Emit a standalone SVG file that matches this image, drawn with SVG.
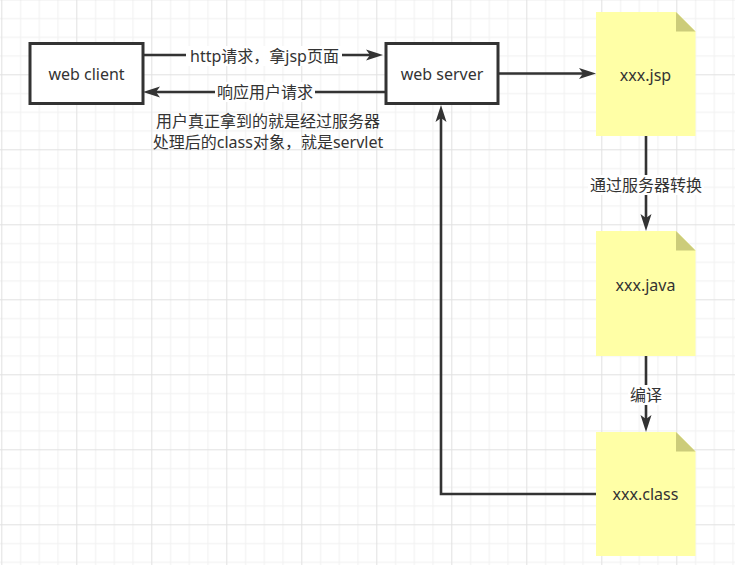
<svg xmlns="http://www.w3.org/2000/svg" width="735" height="565" viewBox="0 0 735 565">
<style>
text{font-family:"Noto Sans","Noto Sans CJK SC",sans-serif;font-size:16px;fill:#333333;text-anchor:middle;dominant-baseline:central}
.box{fill:#ffffff;stroke:#333333;stroke-width:3}
.note{fill:#ffffa6}
.fold{fill:#cccc7a}
.edge{fill:none;stroke:#333333;stroke-width:2.6}
.lbg{fill:#ffffff}
</style>
<defs>
<pattern id="grid" patternUnits="userSpaceOnUse" x="1.3" y="-0.7" width="75" height="75">
<path d="M19.25,0V75M38,0V75M56.75,0V75M0,19.25H75M0,38H75M0,56.75H75" stroke="#f0f0f0" stroke-width="1" fill="none"/>
<path d="M0.5,0V75M0,0.5H75" stroke="#e1e1e1" stroke-width="1" fill="none"/>
</pattern>
<marker id="arr" markerUnits="userSpaceOnUse" markerWidth="20" markerHeight="14" refX="4" refY="6" orient="auto" viewBox="0 0 20 14">
<path d="M0,0.5 L17,6 L0,11.5 L4,6 Z" fill="#333333"/>
</marker>
</defs>
<rect width="735" height="565" fill="#ffffff"/>
<rect width="735" height="565" fill="url(#grid)"/>

<g id="connectors">
<path class="edge" d="M143,55 L370,55" marker-end="url(#arr)"/>
<path class="edge" d="M386,92 L156,92" marker-end="url(#arr)"/>
<path class="edge" d="M498,73.5 L583,73.5" marker-end="url(#arr)"/>
<path class="edge" d="M646,136 L646,218" marker-end="url(#arr)"/>
<path class="edge" d="M646,356 L646,419" marker-end="url(#arr)"/>
<path class="edge" d="M596,494 L441,494 L441,118" marker-end="url(#arr)"/>
<rect class="lbg" x="186" y="46" width="156" height="20"/>
<text x="264.5" y="56">http请求，拿jsp页面</text>
<rect class="lbg" x="215" y="82" width="100" height="20"/>
<text x="265" y="92">响应用户请求</text>
<rect class="lbg" x="588" y="175" width="116" height="20"/>
<text x="646" y="185">通过服务器转换</text>
<rect class="lbg" x="628" y="385" width="36" height="20"/>
<text x="646" y="395">编译</text>
</g>

<g id="note-text">
<text x="268" y="121">用户真正拿到的就是经过服务器</text>
<text x="268" y="141.5">处理后的class对象，就是servlet</text>
</g>

<g id="web-client">
<rect class="box" x="30" y="43.5" width="113" height="60"/>
<text x="86.5" y="73.5">web client</text>
</g>

<g id="web-server">
<rect class="box" x="386" y="43.5" width="112" height="60"/>
<text x="442" y="73.5">web server</text>
</g>

<g id="xxx-jsp">
<path class="note" d="M596,12 H676 L695.5,31.5 V136 H596 Z"/>
<path class="fold" d="M676,12 L695.5,31.5 H676 Z"/>
<text x="645.5" y="74.5">xxx.jsp</text>
</g>

<g id="xxx-java">
<path class="note" d="M596,231 H676 L695.5,250.5 V356 H596 Z"/>
<path class="fold" d="M676,231 L695.5,250.5 H676 Z"/>
<text x="645.5" y="284.5">xxx.java</text>
</g>

<g id="xxx-class">
<path class="note" d="M596,432 H676 L695.5,451.5 V556 H596 Z"/>
<path class="fold" d="M676,432 L695.5,451.5 H676 Z"/>
<text x="645.5" y="494">xxx.class</text>
</g>
</svg>
